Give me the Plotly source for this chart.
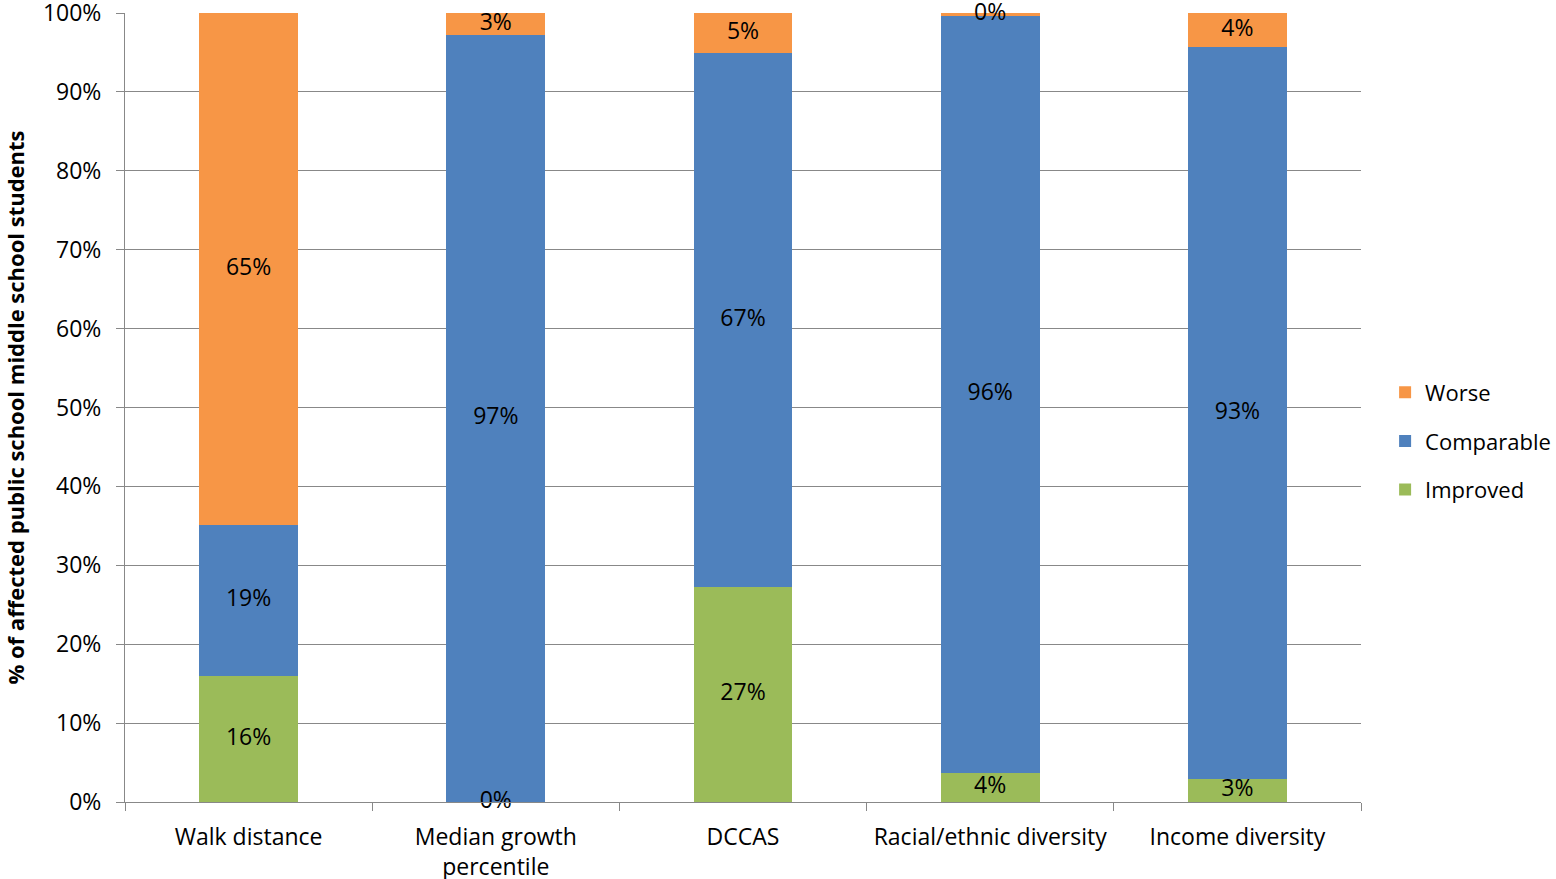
import plotly.graph_objects as go

categories = ["Walk distance", "Median growth<br>percentile", "DCCAS",
              "Racial/ethnic diversity", "Income diversity"]
improved = [16.0, 0.0, 27.0, 3.7, 2.9]
comparable = [19.1, 97.2, 67.0, 95.9, 92.8]
worse = [64.9, 2.8, 5.0, 0.4, 4.3]
ytick_vals = [0, 10, 20, 30, 40, 50, 60, 70, 80, 90, 100]
ytick_text = ["0%", "10%", "20%", "30%", "40%", "50%", "60%", "70%", "80%", "90%", "100%"]

series = [("Improved", improved, "#9BBB59", 3),
          ("Comparable", comparable, "#4F81BD", 2),
          ("Worse", worse, "#F79646", 1)]

FONT = "Open Sans"
FS = 23
fig = go.Figure()
for name, vals, color, rank in series:
    fig.add_trace(go.Bar(
        x=categories, y=vals, name=name, marker_color=color,
        marker_line_width=0, legendgroup=name, legendrank=rank,
        hoverinfo="skip",
    ))

# data labels at the centre of each (normalised) segment
totals = [a + b + c for a, b, c in zip(improved, comparable, worse)]
lx, ly, lt = [], [], []
for i, cat in enumerate(categories):
    base = 0.0
    for name, vals, color, rank in series:
        frac = vals[i] / totals[i] * 100
        lx.append(cat)
        ly.append(base + frac / 2)
        lt.append(f"{round(vals[i])}%")
        base += frac
fig.add_trace(go.Scatter(
    x=lx, y=ly, text=lt, mode="text", textposition="middle center",
    textfont=dict(family=FONT, size=FS, color="#000000"),
    showlegend=False, hoverinfo="skip", cliponaxis=False,
))

fig.update_layout(
    barmode="stack", barnorm="percent", bargap=0.6,
    width=1556, height=879,
    margin=dict(l=125, r=195, t=13, b=77, autoexpand=False),
    paper_bgcolor="white", plot_bgcolor="white",
    font=dict(family=FONT, size=FS, color="#000000"),
    legend=dict(x=1.0195, y=0.4575, xanchor="left", yanchor="middle",
                traceorder="grouped", tracegroupgap=17,
                font=dict(family=FONT, size=22, color="#000000"),
                itemwidth=30, bgcolor="rgba(0,0,0,0)"),
    showlegend=True,
)
fig.update_xaxes(
    tickson="boundaries", ticks="outside", ticklen=8, tickcolor="#888888",
    showgrid=False, showline=True, linecolor="#888888", linewidth=1,
    tickfont=dict(family=FONT, size=FS), automargin=False,
    ticklabelstandoff=14, ticklabeloverflow="allow",
)
fig.update_yaxes(
    range=[0, 100], tickmode="array", tickvals=ytick_vals, ticktext=ytick_text,
    ticks="outside", ticklen=8,
    tickcolor="#888888", showgrid=True, gridcolor="#888888", gridwidth=1,
    showline=True, linecolor="#888888", linewidth=1,
    tickfont=dict(family=FONT, size=FS), zeroline=False, automargin=False,
    ticklabelstandoff=10, ticklabeloverflow="allow",
    title=dict(text="<b>% of affected public school middle school students</b>",
               font=dict(family=FONT, size=22), standoff=24),
)
fig.write_html("out.html", config={"displayModeBar": False},
               post_script="document.body.style.margin='0';document.body.style.overflow='hidden';")
